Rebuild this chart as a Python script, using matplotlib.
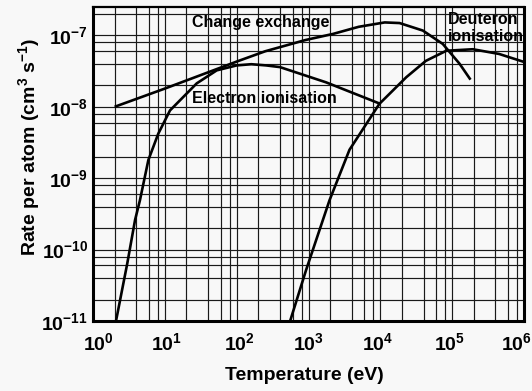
import math
import matplotlib
matplotlib.use('Agg')
import matplotlib.pyplot as plt
import matplotlib.transforms as mtransforms
from matplotlib import font_manager
from matplotlib.ticker import LogLocator, NullFormatter, LogFormatterMathtext

names = {f.name for f in font_manager.fontManager.ttflist}
narrow = 'Liberation Sans Narrow' in names
fam = 'Liberation Sans Narrow' if narrow else 'Liberation Sans'

plt.rcParams['font.family'] = [fam, 'DejaVu Sans']
plt.rcParams['font.weight'] = 'bold'
plt.rcParams['mathtext.fontset'] = 'custom'
plt.rcParams['mathtext.rm'] = f'{fam}:bold'
plt.rcParams['mathtext.bf'] = f'{fam}:bold'
plt.rcParams['mathtext.it'] = f'{fam}:bold'
plt.rcParams['mathtext.default'] = 'bf'

# ---- data ----
cx_T = [2.0, 10, 100, 250, 900, 2200, 5000, 1.15e4, 1.85e4, 3.9e4, 7.4e4, 1.27e5, 1.8e5]
cx_R = [1.0e-8, 1.8e-8, 4.3e-8, 6.0e-8, 8.6e-8, 1.05e-7, 1.32e-7, 1.52e-7, 1.49e-7, 1.17e-7, 7.6e-8, 4.0e-8, 2.4e-8]

ei_T = [2.09, 3.0, 3.85, 4.5, 5.9, 8.1, 11.8, 27.8, 52.8, 100, 160, 257, 400, 1760, 1.0e4]
ei_R = [1.0e-11, 6.4e-11, 2.6e-10, 4.9e-10, 1.8e-9, 4.2e-9, 8.9e-9, 2.13e-8, 3.24e-8, 3.8e-8, 3.95e-8, 3.8e-8, 3.6e-8, 2.2e-8, 1.1e-8]

di_T = [555, 927, 1960, 3720, 9700, 2.3e4, 4.3e4, 8.3e4, 1.94e5, 4.5e5, 1.0e6]
di_R = [1.0e-11, 5.2e-11, 4.9e-10, 2.5e-9, 1.1e-8, 2.6e-8, 4.4e-8, 6.1e-8, 6.4e-8, 5.5e-8, 4.25e-8]

labels = ['Change exchange', 'Electron ionisation', 'Deuteron', 'ionisation']

bg = '#f8f8f8'
fig = plt.figure(figsize=(5.32, 3.91), dpi=100, facecolor=bg)
ax = fig.add_axes([93/532, 70/391, 431/532, 314/391], facecolor=bg)

ax.set_xscale('log')
ax.set_yscale('log')
ax.set_xlim(1, 1e6)
ax.set_ylim(1e-11, 2.5e-7)

ax.xaxis.set_major_locator(LogLocator(base=10, numticks=20))
ax.yaxis.set_major_locator(LogLocator(base=10, numticks=20))
ax.xaxis.set_minor_locator(LogLocator(base=10, subs=(2, 4, 6, 8), numticks=20))
ax.yaxis.set_minor_locator(LogLocator(base=10, subs=(2, 4, 6, 8), numticks=20))
ax.xaxis.set_minor_formatter(NullFormatter())
ax.yaxis.set_minor_formatter(NullFormatter())
ax.xaxis.set_major_formatter(LogFormatterMathtext())
ax.yaxis.set_major_formatter(LogFormatterMathtext())

ax.grid(True, which='both', color='#1a1a1a', lw=0.85)
ax.tick_params(which='both', length=0)
tsize = 15 if narrow else 14
ax.tick_params(axis='x', pad=8, labelsize=tsize)
ax.tick_params(axis='y', pad=3.5, labelsize=tsize)

for s in ax.spines.values():
    s.set_linewidth(2.2)
    s.set_color('black')
ax.spines['top'].set_linewidth(1.6)

lw = 1.9
ax.plot(cx_T, cx_R, color='black', lw=lw, solid_capstyle='butt')
ax.plot(ei_T, ei_R, color='black', lw=lw, solid_capstyle='butt')
ax.plot(di_T, di_R, color='black', lw=lw, solid_capstyle='butt')

fs = 14 if narrow else 11.5
ax.text(23.9, 1.3e-7, labels[0], fontsize=fs, fontweight='bold', ha='left', va='baseline')
ax.text(23.9, 1.14e-8, labels[1], fontsize=fs, fontweight='bold', ha='left', va='baseline')
ax.text(8.6e4, 1.43e-7, labels[2], fontsize=fs, fontweight='bold', ha='left', va='baseline')
ax.text(8.6e4, 8.3e-8, labels[3], fontsize=fs, fontweight='bold', ha='left', va='baseline')

lsize = 16 if narrow else 14
ax.set_xlabel('Temperature (eV)', fontsize=lsize, fontweight='bold')
ax.set_ylabel('Rate per atom (cm$^3$ s$^{-1}$)', fontsize=lsize, fontweight='bold')
ax.xaxis.set_label_coords(0.49, -0.145)
ax.yaxis.set_label_coords(-0.118, 0.555)

fig.canvas.draw()
for tick in ax.xaxis.get_major_ticks():
    loc = tick.get_loc()
    if loc <= 0:
        continue
    e = round(math.log10(loc))
    shift = {0: 5, 1: 2, 2: 3, 4: -3, 5: -3, 6: -8}.get(e, 0)
    if shift:
        tick.label1.set_transform(tick.label1.get_transform() +
                                  mtransforms.ScaledTranslation(shift / 100, 0, fig.dpi_scale_trans))

fig.savefig('out.png', dpi=100, facecolor=bg)
